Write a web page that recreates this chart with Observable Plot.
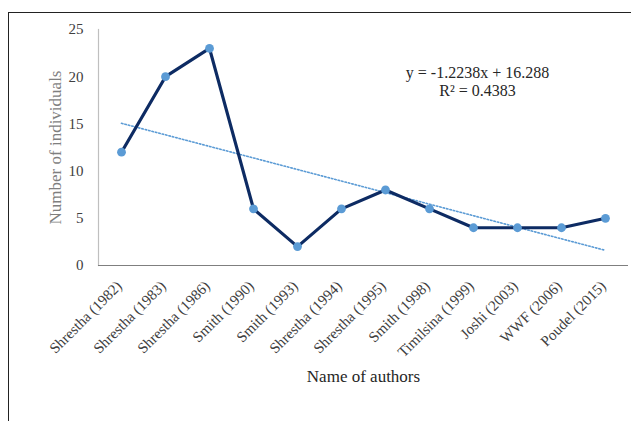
<!DOCTYPE html>
<html>
<head>
<meta charset="utf-8">
<script src="https://cdn.jsdelivr.net/npm/d3@7"></script>
<script src="https://cdn.jsdelivr.net/npm/@observablehq/plot@0.6"></script>
<style>
  html, body { margin: 0; padding: 0; background: #fff; }
  #wrap { position: relative; width: 631px; height: 421px; overflow: hidden; }
  #border { position: absolute; left: 8px; top: 12px; width: 640px; height: 420px; border: 1px solid #222; box-sizing: border-box; }
  #chart { position: absolute; left: 0; top: 0; }
</style>
</head>
<body>
<div id="wrap"><div id="border"></div><div id="chart"></div></div>
<script>
const authors = ["Shrestha (1982)", "Shrestha (1983)", "Shrestha (1986)", "Smith (1990)", "Smith (1993)", "Shrestha (1994)", "Shrestha (1995)", "Smith (1998)", "Timilsina (1999)", "Joshi (2003)", "WWF (2006)", "Poudel (2015)"];
const individuals = [12, 20, 23, 6, 2, 6, 8, 6, 4, 4, 4, 5];
const yTicks = [0, 5, 10, 15, 20, 25];
const slope = -1.2238;
const intercept = 16.288;
const eqLines = ["y = -1.2238x + 16.288", "R² = 0.4383"];

const data = authors.map((a, i) => ({author: a, value: individuals[i]}));
const trend = [
  {author: authors[0], value: intercept + slope * 1},
  {author: authors[authors.length - 1], value: intercept + slope * authors.length}
];

const plot = Plot.plot({
  width: 631,
  height: 421,
  marginLeft: 98,
  marginTop: 29,
  marginBottom: 156,
  marginRight: 3,
  style: {fontFamily: "'Liberation Serif', 'Times New Roman', serif", background: "transparent"},
  x: {type: "band", domain: authors, padding: 0, label: null},
  y: {domain: [0, 25], label: null},
  marks: [
    Plot.frame({anchor: "left", stroke: "#bfbfbf", strokeWidth: 1.2}),
    Plot.axisY({ticks: yTicks, tickSize: 0, tickPadding: 15, fontSize: 15, fill: "#404040", label: null}),
    Plot.axisX({tickSize: 0, tickRotate: -45, tickPadding: 16, dx: -2, dy: 2, fontSize: 15, fill: "#404040", label: null}),
    Plot.line(trend, {x: "author", y: "value", stroke: "#5b9bd5", strokeWidth: 1.6, strokeDasharray: "1.5,2"}),
    Plot.line(data, {x: "author", y: "value", stroke: "#0d2b63", strokeWidth: 3.2}),
    Plot.dot(data, {x: "author", y: "value", r: 4.4, fill: "#5b9bd5", stroke: "none"}),
    Plot.ruleY([0], {stroke: "#7f7f7f", strokeWidth: 1.2}),
    Plot.text(["Number of individuals"], {frameAnchor: "left", textAnchor: "middle", dx: -43, rotate: -90, fontSize: 17, fill: "#7f7f7f"}),
    Plot.text(["Name of authors"], {frameAnchor: "bottom", textAnchor: "middle", dy: 116, fontSize: 17, fill: "#262626"}),
    Plot.text([eqLines.join("\n")], {frameAnchor: "top-left", textAnchor: "middle", dx: 379, dy: 35, fontSize: 16, fill: "#262626", lineHeight: 1.15})
  ]
});
document.getElementById("chart").appendChild(plot);
</script>
</body>
</html>
